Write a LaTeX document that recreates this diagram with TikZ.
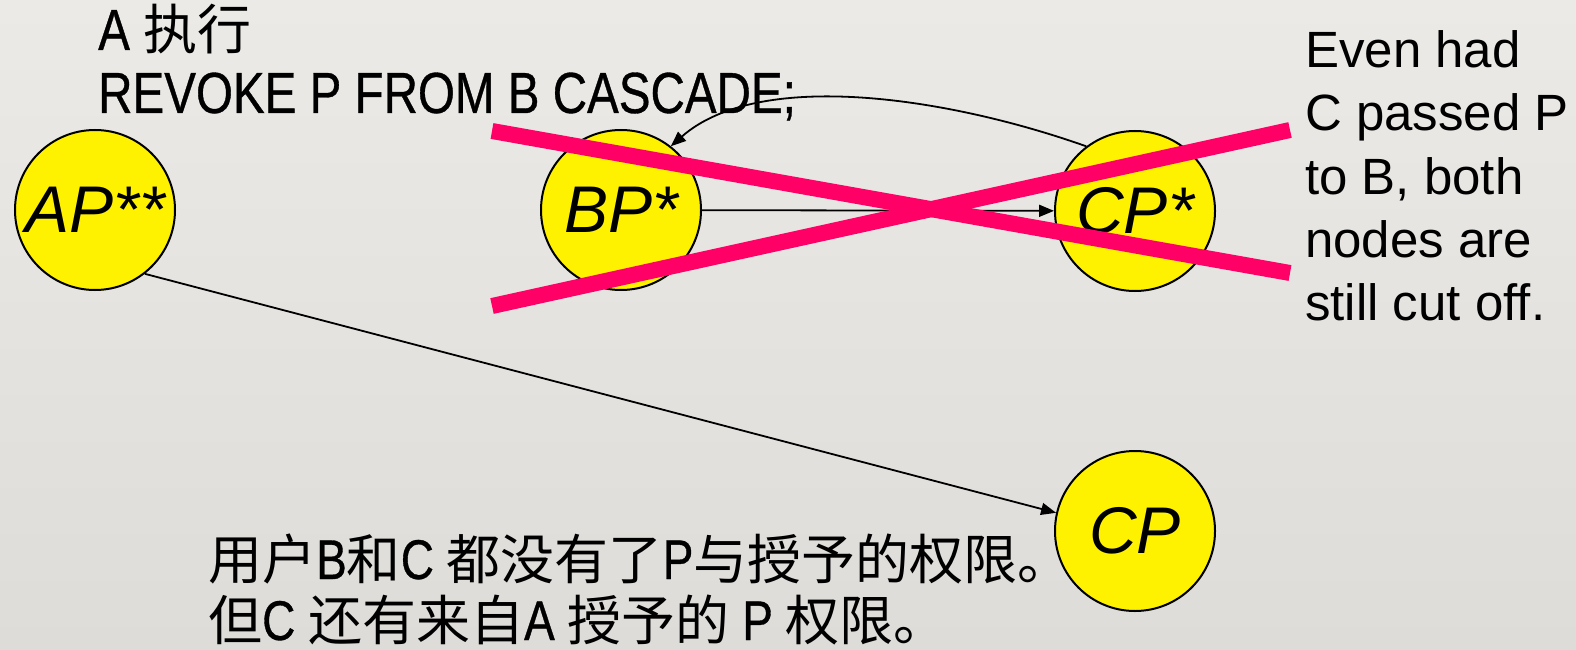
\documentclass[tikz,border=0pt]{standalone}
\usepackage{fontspec}
\setmainfont{Liberation Sans}
\newfontfamily\lat{Liberation Sans}[FakeStretch=0.82,FakeBold=0.6]
\newfontfamily\cjk{Noto Sans CJK SC}
\newcommand\zhtxt[2]{{\cjk\fontsize{#1}{63}\selectfont #2}}
\usetikzlibrary{arrows.meta}
\definecolor{crossred}{RGB}{255,0,102}
\definecolor{bgtop}{RGB}{236,234,230}
\definecolor{bgbot}{RGB}{222,220,216}
\tikzset{
 priv/.style={circle, draw=black, line width=2pt, fill=yellow, minimum size=160pt, inner sep=0pt, font=\fontsize{66}{70}\selectfont\itshape},
 grant/.style={-{Triangle[length=15pt,width=12pt]}, line width=1.8pt},
 cross/.style={line width=16pt, color=crossred},
 note/.style={anchor=base west, inner sep=0pt, font=\fontsize{51}{63}\selectfont},
 cmd/.style={anchor=base west, inner sep=0pt, font=\lat\fontsize{58}{63}\selectfont},
 caption/.style={anchor=base west, inner sep=0pt, font=\lat\fontsize{56}{63}\selectfont},
}
\begin{document}
\begin{tikzpicture}[x=1pt,y=-1pt]
\shade[top color=bgtop, bottom color=bgbot] (0,0) rectangle (1576,650);
\useasboundingbox (0,0) rectangle (1576,650);

\node[cmd] (t1) at (98,50) {A \zhtxt{54}{执行}};
\node[cmd] (t2) at (98,113) {REVOKE P FROM B CASCADE;};

\node[priv] (ap) at (95,210) {AP**};
\node[priv] (bp) at (621,210) {BP*};
\node[priv] (cps) at (1135,211) {CP*};
\node[priv] (cp) at (1135,531) {CP};

\draw[grant] (bp) -- (cps);
\draw[grant] (cps.127) .. controls (950,98) and (760,68) .. (bp.52);
\draw[grant] (ap.308) -- (cp.167);

\coordinate (x1a) at (492,131);
\coordinate (x1b) at (1290,273);
\coordinate (x2a) at (492,306);
\coordinate (x2b) at (1290,130);
\draw[cross] (x1a) -- (x1b);
\draw[cross] (x2a) -- (x2b);

\node[note] (n1) at (1305,68) {Even had};
\node[note] (n2) at (1305,131) {C passed P};
\node[note] (n3) at (1305,194) {to B, both};
\node[note] (n4) at (1305,257) {nodes are};
\node[note] (n5) at (1305,320) {still cut off.};

\node[caption] (b1) at (208,579) {\zhtxt{54}{用户}B\zhtxt{54}{和}C \zhtxt{54}{都没有了}P\zhtxt{54}{与授予的权限。}};
\node[caption] (b2) at (208,640) {\zhtxt{54}{但}C \zhtxt{54}{还有来自}A \zhtxt{54}{授予的} P \zhtxt{54}{权限。}};
\end{tikzpicture}
\end{document}
